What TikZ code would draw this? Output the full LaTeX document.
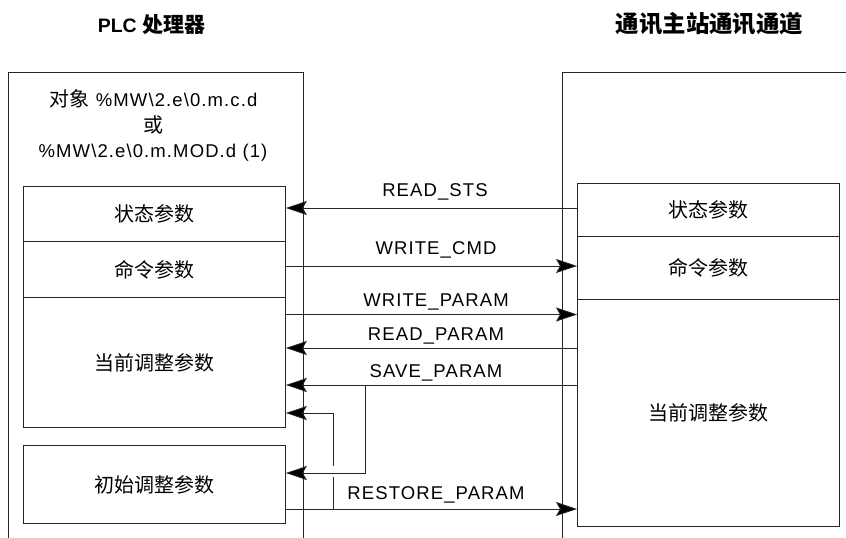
\documentclass[tikz,border=0pt]{standalone}
\usepackage{fontspec}
\setmainfont{Liberation Sans}[LetterSpace=6]
\newfontfamily\cjk{Noto Sans CJK SC}
\newfontfamily\hdlat{Liberation Sans}
\usetikzlibrary{arrows.meta}
\begin{document}
\begin{tikzpicture}[x=1pt,y=-1pt,
  ln/.style={line width=0.8pt, draw=black!85},
  box/.style={ln, anchor=north west, inner sep=0pt, minimum width=262pt, font=\cjk\fontsize{20}{22}\selectfont},
  arr/.style={ln, -{Stealth[length=21pt,width=14pt,inset=4pt,fill=black]}},
  lbl/.style={font=\fontsize{18.5}{20}\selectfont, inner sep=0pt, anchor=base},
  hdr/.style={inner sep=0pt}]
\useasboundingbox (0,0) rectangle (846,538);
% headers
\node[hdr] (h1) at (151.5,25) {\hdlat\bfseries\fontsize{19.5}{22}\selectfont PLC {\cjk\bfseries\fontsize{21}{24}\selectfont 处理器}};
\node[hdr] (h2) at (709.5,24) {\cjk\bfseries\fontsize{23.4}{26}\selectfont 通讯主站通讯通道};
% outer boxes
\draw[ln] (8,538) -- (8,72) -- (303,72) -- (303,538);
\draw[ln] (846,72) -- (562,72) -- (562,538);
% title in left outer box
\node[lbl] (obj1) at (153.5,106.5) {{\cjk\fontsize{20}{20}\selectfont 对象} \%MW\textbackslash 2.e\textbackslash 0.m.c.d};
\node[lbl] (obj2) at (153.5,132) {\cjk\fontsize{20}{20}\selectfont 或};
\node[lbl] (obj3) at (153,157.7) {\%MW\textbackslash 2.e\textbackslash 0.m.MOD.d (1)};
% left boxes
\node[box, minimum height=55pt] (ls) at (23,186) {状态参数};
\node[box, minimum height=56pt] (lc) at (23,241) {命令参数};
\node[box, minimum height=130pt] (lcur) at (23,297) {当前调整参数};
\node[box, minimum height=78pt] (linit) at (23,445) {初始调整参数};
% right boxes
\node[box, minimum height=53pt] (rs) at (577,183) {状态参数};
\node[box, minimum height=63pt] (rc) at (577,236) {命令参数};
\node[box, minimum height=227pt] (rcur) at (577,299) {当前调整参数};
% connectors
\draw[arr] (rs.west |- 0,208) -- (ls.east |- 0,208);
\node[lbl] (l1) at (435,196.7) {READ\_STS};
\draw[arr] (lc.east |- 0,266) -- (rc.west |- 0,266);
\node[lbl] (l2) at (436,254) {WRITE\_CMD};
\draw[arr] (lcur.east |- 0,314.5) -- (rcur.west |- 0,314.5);
\node[lbl] (l3) at (436,306) {WRITE\_PARAM};
\draw[arr] (rcur.west |- 0,348) -- (lcur.east |- 0,348);
\node[lbl] (l4) at (436,340.7) {READ\_PARAM};
\draw[arr] (rcur.west |- 0,385) -- (lcur.east |- 0,385);
\node[lbl] (l5) at (436,377.3) {SAVE\_PARAM};
\draw[arr] (linit.east |- 0,509) -- (rcur.west |- 0,509);
\node[lbl] (l6) at (436,499) {RESTORE\_PARAM};
% branches
\coordinate (sb) at (365,385);
\coordinate (rb) at (333,509);
\draw[arr] (sb) -- (sb |- 0,473) -- (linit.east |- 0,473);
\draw[ln] (rb) -- (rb |- 0,477);
\draw[arr] (rb |- 0,466) -- (rb |- 0,413) -- (lcur.east |- 0,413);
\end{tikzpicture}
\end{document}
